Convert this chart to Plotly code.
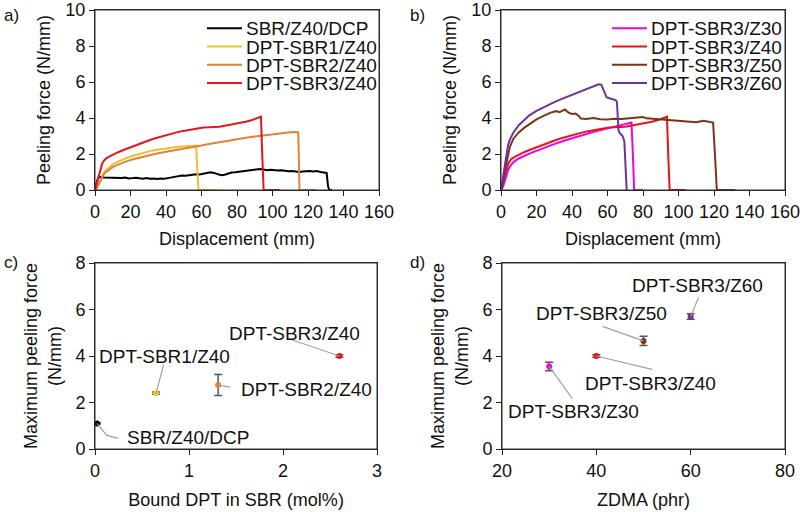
import plotly.graph_objects as go

W, H = 802, 512
FONT = "Arial, Liberation Sans, sans-serif"

# ---------------- Panel a / b : peeling curves ----------------
dcp_x = [0, 1, 2, 3, 5, 7, 9, 11, 13, 15, 17, 19, 21, 23, 25, 27, 29, 31, 33, 35, 37, 39, 41, 43, 45,
         47, 49, 51, 53, 55, 57, 59, 61, 63, 65, 67, 69, 71, 73, 75, 77, 79, 81, 83, 85, 87, 89, 91,
         93, 95, 97, 99, 101, 103, 105, 107, 109, 111, 113, 115, 117, 119, 121, 123, 125, 127, 129,
         130.5, 131.3, 132, 133.5]
dcp_y = [0, 0.45, 0.7, 0.72, 0.7, 0.69, 0.71, 0.68, 0.7, 0.67, 0.69, 0.64, 0.66, 0.68, 0.65, 0.63,
         0.66, 0.62, 0.64, 0.61, 0.64, 0.62, 0.66, 0.7, 0.74, 0.78, 0.8, 0.79, 0.83, 0.85, 0.88, 0.86,
         0.9, 0.94, 0.98, 0.95, 0.88, 0.82, 0.85, 0.92, 0.97, 0.99, 1.02, 1.04, 1.07, 1.1, 1.12, 1.15,
         1.17, 1.14, 1.1, 1.12, 1.09, 1.08, 1.1, 1.06, 1.04, 1.05, 1.02, 1.0, 1.03, 1.05, 1.06, 1.03,
         1.05, 1.0, 0.98, 0.95, 0.2, 0, 0]

sbr1_x = [0, 1, 2, 3, 4, 5, 6, 8, 10, 13, 16, 19, 22, 25, 28, 31, 34, 37, 40, 43, 46, 49, 52, 55,
          57, 57.6, 58.3, 69]
sbr1_y = [0, 0.1, 0.3, 0.55, 0.8, 0.95, 1.08, 1.27, 1.42, 1.58, 1.71, 1.82, 1.92, 2.01, 2.09, 2.16,
          2.22, 2.27, 2.31, 2.35, 2.39, 2.42, 2.44, 2.46, 2.47, 1.2, 0, 0]

sbr2_x = [0, 1, 2, 3, 4, 5, 6, 8, 10, 13, 16, 19, 22, 25, 28, 31, 35, 40, 45, 50, 55, 60, 65, 70,
          75, 80, 85, 90, 95, 100, 105, 110, 113, 114.5, 115.2, 125]
sbr2_y = [0, 0.1, 0.3, 0.5, 0.72, 0.88, 0.99, 1.15, 1.27, 1.41, 1.53, 1.63, 1.72, 1.8, 1.88, 1.95,
          2.03, 2.12, 2.2, 2.28, 2.37, 2.47, 2.57, 2.66, 2.74, 2.82, 2.9, 2.97, 3.04, 3.11, 3.17,
          3.21, 3.22, 3.2, 0, 0]

sbr3_x = [0, 1, 2, 3, 4, 5, 6, 8, 10, 13, 16, 19, 22, 25, 28, 31, 34, 37, 40, 43, 46, 49, 52, 55,
          58, 61, 64, 67, 70, 73, 76, 79, 82, 85, 88, 90, 92, 93.5, 94.2, 95, 104]
sbr3_y = [0, 0.35, 0.8, 1.15, 1.45, 1.62, 1.73, 1.86, 1.97, 2.1, 2.22, 2.34, 2.45, 2.56, 2.67, 2.78,
          2.88, 2.97, 3.05, 3.13, 3.2, 3.27, 3.33, 3.39, 3.44, 3.47, 3.48, 3.49, 3.52, 3.57, 3.62,
          3.67, 3.72, 3.79, 3.87, 3.93, 3.99, 4.07, 2.0, 0, 0]

z30_x = [0, 1, 2, 3, 4, 5, 7, 10, 13, 16, 20, 25, 30, 35, 40, 45, 50, 55, 60, 65, 70, 73.5, 74.3,
         75, 80]
z30_y = [0, 0.15, 0.45, 0.8, 1.1, 1.3, 1.55, 1.75, 1.9, 2.02, 2.17, 2.37, 2.55, 2.72, 2.88, 3.03,
         3.17, 3.3, 3.43, 3.55, 3.67, 3.75, 2.0, 0, 0]

z50_x = [0, 1, 2, 3, 4, 5, 7, 10, 13, 16, 20, 24, 28, 31, 33, 35, 36, 38, 40, 42, 44, 45, 48, 52,
         56, 60, 64, 68, 72, 76, 80, 82, 86, 90, 95, 100, 105, 110, 114, 117, 119.5, 120.8, 121.6,
         132]
z50_y = [0, 0.4, 1.0, 1.5, 2.0, 2.4, 2.85, 3.2, 3.45, 3.65, 3.92, 4.12, 4.3, 4.38, 4.32, 4.42, 4.47,
         4.3, 4.22, 4.25, 4.1, 3.97, 3.95, 4.0, 3.93, 3.92, 3.96, 3.94, 3.98, 4.0, 4.05, 3.98, 3.95,
         3.9, 3.88, 3.85, 3.8, 3.76, 3.85, 3.78, 3.75, 1.5, 0, 0]

z60_x = [0, 1, 2, 3, 4, 5, 7, 10, 13, 16, 20, 25, 30, 35, 40, 45, 50, 53, 55, 56.5, 58, 59.5, 61,
         63, 64.5, 65.3, 65.7, 66.2, 67, 68.5, 69.5, 70.2, 70.8]
z60_y = [0, 0.6, 1.3, 2.0, 2.5, 2.8, 3.2, 3.6, 3.9, 4.15, 4.4, 4.65, 4.88, 5.09, 5.28, 5.47, 5.66,
         5.78, 5.87, 5.85, 5.5, 5.15, 5.1, 5.05, 5.0, 4.9, 3.6, 3.3, 3.15, 3.0, 2.7, 1.0, 0]

a_names = ["SBR/Z40/DCP", "DPT-SBR1/Z40", "DPT-SBR2/Z40", "DPT-SBR3/Z40"]
a_colors = ["#000000", "#F2BF2C", "#E0823A", "#E8141C"]
a_series = [(dcp_x, dcp_y), (sbr1_x, sbr1_y), (sbr2_x, sbr2_y), (sbr3_x, sbr3_y)]

b_names = ["DPT-SBR3/Z30", "DPT-SBR3/Z40", "DPT-SBR3/Z50", "DPT-SBR3/Z60"]
b_colors = ["#F000F0", "#E8141C", "#7A3516", "#7030A0"]
b_series = [(z30_x, z30_y), (sbr3_x, sbr3_y), (z50_x, z50_y), (z60_x, z60_y)]

# ---------------- Panel c : max force vs bound DPT ----------------
c_labels = ["SBR/Z40/DCP", "DPT-SBR1/Z40", "DPT-SBR2/Z40", "DPT-SBR3/Z40"]
c_x = [0.02, 0.65, 1.31, 2.6]
c_y = [1.1, 2.4, 2.75, 4.0]
c_err = [0.03, 0.05, 0.45, 0.05]
c_colors = ["#000000", "#F2BF2C", "#E0823A", "#E8141C"]

# ---------------- Panel d : max force vs ZDMA ----------------
d_labels = ["DPT-SBR3/Z30", "DPT-SBR3/Z40", "DPT-SBR3/Z50", "DPT-SBR3/Z60"]
d_x = [30, 40, 50, 60]
d_y = [3.55, 4.0, 4.65, 5.7]
d_err = [0.18, 0.05, 0.2, 0.12]
d_colors = ["#F000F0", "#E8141C", "#7A3516", "#7030A0"]

# label layout (screen pixel offsets from the point: text centre and leader path)
c_text_off = [(91, 14), (8, -37), (88, 4), (-45, -23)]
c_lead = [[(0, 0), (10, 12), (21, 15)], [(0, 0), (7.5, -28.5)], [(0, 0), (12, 2)], [(0, 0), (-47, -16)]]
d_text_off = [(24, 45), (54, 27), (-42, -27), (6.5, -31)]
d_lead = [[(0, 0), (23, 32)], [(0, 0), (55.6, 13.3)], [(0, 0), (-41, -14.5)], [(0, 0), (7.8, -19)]]

fig = go.Figure()

for (xs, ys), n, c in zip(a_series, a_names, a_colors):
    fig.add_trace(go.Scatter(x=xs, y=ys, mode="lines", name=n, line=dict(color=c, width=2),
                             xaxis="x", yaxis="y", showlegend=False))
for (xs, ys), n, c in zip(b_series, b_names, b_colors):
    fig.add_trace(go.Scatter(x=xs, y=ys, mode="lines", name=n, line=dict(color=c, width=2),
                             xaxis="x2", yaxis="y2", showlegend=False))

for xv, yv, e, c in zip(c_x, c_y, c_err, c_colors):
    fig.add_trace(go.Scatter(x=[xv], y=[yv], mode="markers", xaxis="x3", yaxis="y3", showlegend=False,
                             marker=dict(color=c, size=6),
                             error_y=dict(type="data", array=[e], color="#555555", thickness=1.5, width=4)))
for xv, yv, e, c in zip(d_x, d_y, d_err, d_colors):
    fig.add_trace(go.Scatter(x=[xv], y=[yv], mode="markers", xaxis="x4", yaxis="y4", showlegend=False,
                             marker=dict(color=c, size=6),
                             error_y=dict(type="data", array=[e], color="#555555", thickness=1.5, width=4)))


def px(v):
    return v / W


def py(v):
    return 1 - v / H


def axis(domain, rng, dtick, anchor, title, standoff):
    return dict(domain=domain, range=rng, dtick=dtick, anchor=anchor, showline=True, linecolor="#222222",
                linewidth=1, mirror=True, ticks="outside", ticklen=5, tickcolor="#222222",
                showgrid=False, zeroline=False, automargin=False, ticklabeloverflow="allow",
                tickfont=dict(size=18, color="#111111", family=FONT),
                title=dict(text=title, standoff=standoff, font=dict(size=18, color="#111111", family=FONT)))


ya_dom = [py(190), py(10)]
yc_dom = [py(449), py(263)]
fig.update_layout(
    width=W, height=H, margin=dict(l=0, r=0, t=0, b=0),
    paper_bgcolor="white", plot_bgcolor="white",
    font=dict(family=FONT, color="#111111"),
    xaxis=axis([px(95), px(379)], [0, 160], 20, "y", "Displacement (mm)", 11),
    yaxis=axis(ya_dom, [0, 10], 2, "x", "Peeling force (N/mm)", 10),
    xaxis2=axis([px(501), px(785)], [0, 160], 20, "y2", "Displacement (mm)", 11),
    yaxis2=axis(ya_dom, [0, 10], 2, "x2", "Peeling force (N/mm)", 10),
    xaxis3=axis([px(95), px(377)], [0, 3], 1, "y3", "Bound DPT in SBR (mol%)", 13),
    yaxis3=axis(yc_dom, [0, 8], 2, "x3", "Maximum peeling force<br>(N/mm)", 9),
    xaxis4=axis([px(502), px(785)], [20, 80], 20, "y4", "ZDMA (phr)", 13),
    yaxis4=axis(yc_dom, [0, 8], 2, "x4", "Maximum peeling force<br>(N/mm)", 9),
)

shapes = []
annotations = []

# frame around every plot area
for xr, yr in [("x", "y"), ("x2", "y2"), ("x3", "y3"), ("x4", "y4")]:
    shapes.append(dict(type="rect", xref=xr + " domain", yref=yr + " domain", x0=0, x1=1, y0=0, y1=1,
                       line=dict(color="#333333", width=1), layer="above"))

# manual legends (panels a and b)
for names, colors, x0, x1 in [(a_names, a_colors, 207, 242), (b_names, b_colors, 612, 647)]:
    for i, (n, c) in enumerate(zip(names, colors)):
        yy = 28.3 + i * 18.2
        shapes.append(dict(type="line", xref="paper", yref="paper", x0=px(x0), x1=px(x1),
                           y0=py(yy), y1=py(yy), line=dict(color=c, width=2)))
        annotations.append(dict(xref="paper", yref="paper", x=px(x1 + 2), y=py(yy), text=n,
                                showarrow=False, xanchor="left", yanchor="middle", height=18,
                                font=dict(size=19, color="#111111", family=FONT)))

# point labels with leader lines (panels c and d)
for labels, xs, ys, toff, leads, xr, yr in [
        (c_labels, c_x, c_y, c_text_off, c_lead, "x3", "y3"),
        (d_labels, d_x, d_y, d_text_off, d_lead, "x4", "y4")]:
    for lab, xv, yv, (dx, dy), lead in zip(labels, xs, ys, toff, leads):
        path = "M " + " L ".join(f"{p[0]} {-p[1]}" for p in lead)
        shapes.append(dict(type="path", xref=xr, yref=yr, xsizemode="pixel", ysizemode="pixel",
                           xanchor=xv, yanchor=yv, path=path, line=dict(color="#A0A0A0", width=1.2)))
        annotations.append(dict(xref=xr, yref=yr, x=xv, y=yv, xshift=dx, yshift=-dy, text=lab,
                                showarrow=False, xanchor="center", yanchor="middle",
                                font=dict(size=19, color="#111111", family=FONT)))

# panel letters
for letter, xx, yy in [("a)", 2, 15), ("b)", 408, 15), ("c)", 2, 262), ("d)", 408, 262)]:
    annotations.append(dict(xref="paper", yref="paper", x=px(xx), y=py(yy), text=letter,
                            showarrow=False, xanchor="left", yanchor="middle",
                            font=dict(size=17, color="#111111", family=FONT)))

fig.update_layout(shapes=shapes, annotations=annotations)
fig.write_html("out.html", config={"displayModeBar": False},
               post_script="document.body.style.margin='0';document.body.style.overflow='hidden';")
